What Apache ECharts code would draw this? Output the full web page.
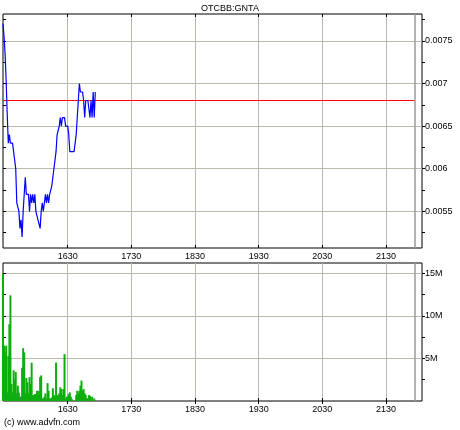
<!DOCTYPE html>
<html>
<head>
<meta charset="utf-8">
<script src="https://cdn.jsdelivr.net/npm/echarts@6/dist/echarts.min.js"></script>
<style>html,body{margin:0;padding:0;background:#fff}#c{width:460px;height:430px}</style>
</head>
<body>
<div id="c"></div>
<script>
// ---- data ----
const times = [1529,1530,1531,1532,1533,1534,1535,1536,1537,1538,1539,1540,1541,1542,1543,1544,1545,1546,1547,1548,1549,1550,1551,1552,1553,1554,1555,1556,1557,1558,1559,
1600,1601,1602,1603,1604,1605,1606,1607,1608,1609,1610,1611,1612,1613,1614,1615,1616,1617,1618,1619,1620,1621,1622,1623,1624,1625,1626,1627,1628,1629,
1630,1631,1632,1633,1634,1635,1636,1637,1638,1639,1640,1641,1642,1643,1644,1645,1646,1647,1648,1649,1650,1651,1652,1653,1654,1655,1656];
const prices = [0.0077,0.00755,0.00734,0.00702,0.00663,0.0063,0.0064,0.0063,0.0063,0.0063,0.0062,0.0062,0.006,0.0056,0.0056,0.0055,0.0053,0.0054,0.0052,0.0055,0.0057,0.0059,0.0057,0.0057,0.0057,0.0055,0.0057,0.0056,0.0057,0.0056,0.0057,
0.0055,0.0055,0.0054,0.0054,0.0053,0.0055,0.0056,0.0055,0.0056,0.0057,0.0056,0.0057,0.0056,0.0057,0.0057,0.0058,0.0059,0.006,0.0061,0.0062,0.0064,0.0064,0.0065,0.0066,0.0065,0.0066,0.0066,0.0066,0.0065,0.0065,
0.0065,0.0064,0.0062,0.0062,0.0062,0.0062,0.0062,0.0063,0.0064,0.0066,0.0068,0.007,0.0069,0.0069,0.0069,0.0068,0.0066,0.0068,0.0068,0.0068,0.0068,0.0066,0.0068,0.0066,0.0069,0.0066,0.0069];
const volumesM = [14.9,6.5,5.7,6.5,1.0,5.3,9.0,12.4,2.0,1.0,3.6,2.6,3.4,0.9,1.8,1.0,0.5,0.5,3.9,6.2,5.7,0.9,2.7,2.2,0.9,2.8,2.0,4.5,0.7,0.7,0.8,
0.8,1.2,0.7,1.2,2.8,3.0,0.3,0.3,0.5,0.9,0.3,2.1,1.2,0.3,0.3,0.4,1.5,0.7,0.5,4.5,0.6,0.7,0.9,1.6,1.4,0.7,1.4,5.5,0.3,0.5,
0.5,0.8,1.0,0.5,0.2,0,0,0,0.7,1.2,0.9,1.2,1.8,2.4,1.2,1.4,0.9,0.7,0.3,0.3,0.7,0.6,0,0.5,0,0.3,0];
const prevClose = 0.0068;
const xTickLabels = [1630,1730,1830,1930,2030,2130];
const priceTicks = [0.0055,0.006,0.0065,0.007,0.0075];
const priceMinorTicks = [0.00525,0.00575,0.00625,0.00675,0.00725,0.00775];
const volTicksM = [5,10,15];
const volMinorTicksM = [2.5,7.5,12.5];
const xStartHHMM = 1529, xEndHHMM = 2204, marketMarkHHMM = 2157;
const title = 'OTCBB:GNTA';
const copyright = '(c) www.advfn.com';

// ---- helpers ----
const toMin = v => Math.floor(v / 100) * 60 + (v % 100);
const fmtTime = v => { const h = Math.floor(v / 60), m = Math.round(v % 60); return String(h * 100 + m); };
const xMin = toMin(xStartHHMM), xMax = toMin(xEndHHMM);
const xTicks = xTickLabels.map(toMin);
const markX = toMin(marketMarkHHMM);
const FONT = 'Liberation Sans, Arial, sans-serif';
const gridColor = '#b9b9ad';

const priceData = times.map((t, i) => [toMin(t), prices[i]]);
const volData = times.map((t, i) => [toMin(t), volumesM[i]]);
const prevCloseData = [[xMin, prevClose], [markX, prevClose]];
const priceAll = priceTicks.concat(priceMinorTicks);
const volAll = volTicksM.concat(volMinorTicksM);

function xAxes(gridIndex) {
  return [
    { type: 'value', gridIndex, position: 'bottom', min: xMin, max: xMax,
      axisLine: { show: false },
      axisTick: { show: true, inside: true, length: 3, customValues: xTicks, lineStyle: { color: '#000' } },
      axisLabel: { customValues: xTicks, formatter: fmtTime, margin: 4, color: '#000', fontSize: 9, fontFamily: FONT },
      splitLine: { show: true, lineStyle: { color: gridColor, width: 1 } } },
    { type: 'value', gridIndex, position: 'top', min: xMin, max: xMax,
      axisLine: { show: false },
      axisTick: { show: true, inside: true, length: 3, customValues: xTicks, lineStyle: { color: '#000' } },
      axisLabel: { show: false }, splitLine: { show: false } }
  ];
}
function yAxes(gridIndex, min, max, majors, all, fmt) {
  return [
    { type: 'value', gridIndex, position: 'right', min, max,
      axisLine: { show: false },
      axisTick: { show: true, inside: false, length: 3, customValues: all, lineStyle: { color: '#000' } },
      axisLabel: { customValues: majors, formatter: fmt, margin: 3, color: '#000', fontSize: 9, fontFamily: FONT, align: 'left' },
      splitLine: { show: false } },
    { type: 'value', gridIndex, position: 'left', min, max,
      axisLine: { show: false },
      axisTick: { show: true, inside: true, length: 3, customValues: all, lineStyle: { color: '#000' } },
      axisLabel: { show: false }, splitLine: { show: false } },
    { type: 'value', gridIndex, position: 'left', min, max,
      axisLine: { show: false },
      axisTick: { show: false, customValues: majors },
      axisLabel: { show: false },
      splitLine: { show: true, lineStyle: { color: gridColor, width: 1 } } }
  ];
}
const greyMark = { silent: true, symbol: 'none', label: { show: false },
  lineStyle: { color: '#9a9a9a', width: 1.5, type: 'solid' },
  data: [ { xAxis: markX } ] };

const chart = echarts.init(document.getElementById('c'), null, { renderer: 'canvas' });
chart.setOption({
  animation: false,
  backgroundColor: '#fff',
  title: [
    { text: title, left: 'center', top: 4, padding: 0, textStyle: { fontSize: 9, fontWeight: 'normal', color: '#000', fontFamily: FONT } },
    { text: copyright, left: 4, top: 418, padding: 0, textStyle: { fontSize: 9, fontWeight: 'normal', color: '#000', fontFamily: FONT } }
  ],
  grid: [
    { left: 3, top: 14, width: 419, height: 234, show: true, borderColor: '#000', borderWidth: 1, backgroundColor: 'transparent' },
    { left: 3, top: 263, width: 419, height: 138, show: true, borderColor: '#000', borderWidth: 1, backgroundColor: 'transparent' }
  ],
  xAxis: xAxes(0).concat(xAxes(1)),
  yAxis: yAxes(0, 0.00507, 0.007815, priceTicks, priceAll, v => String(+v.toFixed(5)))
    .concat(yAxes(1, 0, 16.2, volTicksM, volAll, v => v + 'M')),
  series: [
    { type: 'line', xAxisIndex: 0, yAxisIndex: 0, data: [], showSymbol: false, z: 3,
      markLine: greyMark },
    { type: 'line', xAxisIndex: 0, yAxisIndex: 0, data: prevCloseData, showSymbol: false, silent: true,
      lineStyle: { color: '#ff0000', width: 1 }, itemStyle: { color: '#ff0000' }, z: 4 },
    { type: 'line', xAxisIndex: 0, yAxisIndex: 0, data: priceData, showSymbol: false,
      lineStyle: { color: '#0000ff', width: 1.2 }, itemStyle: { color: '#0000ff' }, z: 5 },
    { type: 'bar', xAxisIndex: 2, yAxisIndex: 3, data: volData, barWidth: 2,
      itemStyle: { color: '#0fae0f' },
      markLine: greyMark }
  ]
});
</script>
</body>
</html>
